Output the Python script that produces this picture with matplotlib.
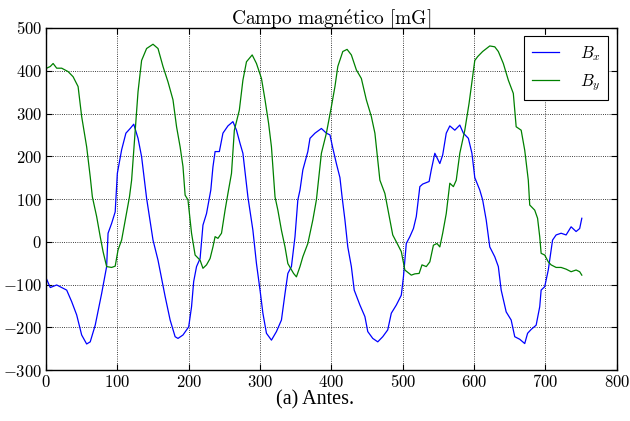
import matplotlib
matplotlib.use("Agg")
import matplotlib.pyplot as plt
from matplotlib.ticker import FuncFormatter, MultipleLocator

# valores (muestra, mG)
bx_t = [1, 6, 15, 22, 29, 36, 43, 50, 57, 62, 69, 78, 85, 87, 92, 97, 100, 106, 112,
        118, 123, 129, 134, 141, 150, 157, 167, 174, 181, 185, 192, 200, 204, 207, 211,
        216, 220, 225, 231, 234, 237, 243, 248, 255, 262, 267, 272, 276, 283, 290, 295,
        300, 304, 309, 316, 323, 330, 335, 339, 344, 349, 353, 356, 360, 367, 370, 377,
        386, 393, 398, 402, 407, 412, 415, 419, 423, 428, 432, 440, 447, 451, 458, 465,
        472, 479, 484, 491, 498, 501, 505, 510, 515, 519, 524, 528, 537, 540, 545, 552,
        556, 561, 566, 573, 580, 585, 592, 597, 601, 608, 612, 617, 622, 629, 634, 638,
        645, 652, 657, 664, 671, 675, 680, 687, 692, 694, 699, 704, 710, 715, 722, 729,
        736, 743, 748, 751]
bx = [-88, -107, -101, -107, -113, -140, -171, -218, -239, -234, -195, -121, -58, 20,
      43, 70, 160, 215, 254, 265, 275, 242, 199, 102, 4, -43, -128, -183, -222, -226,
      -218, -199, -152, -93, -58, -39, 39, 66, 121, 175, 211, 211, 254, 271, 281, 261,
      230, 207, 105, 27, -51, -113, -167, -214, -230, -210, -183, -121, -74, -58, 12,
      98, 121, 168, 211, 242, 254, 265, 254, 250, 219, 183, 150, 105, 51, -12, -58,
      -113, -148, -175, -210, -226, -234, -222, -206, -167, -148, -125, -82, -4, 12, 31,
      59, 129, 135, 141, 168, 207, 183, 203, 254, 271, 261, 273, 254, 242, 207, 150, 121,
      98, 51, -12, -35, -58, -113, -164, -183, -222, -228, -238, -214, -205, -195, -152,
      -113, -105, -66, 4, 16, 20, 16, 35, 24, 31, 55]

by_t = [1, 6, 10, 15, 22, 31, 38, 45, 50, 57, 62, 65, 71, 76, 80, 85, 92, 97, 101, 106,
        112, 117, 120, 125, 129, 134, 141, 150, 157, 164, 171, 178, 183, 188, 192, 195,
        199, 204, 209, 216, 220, 225, 230, 234, 237, 241, 246, 251, 255, 260, 264, 271,
        276, 281, 289, 295, 302, 307, 312, 316, 321, 325, 330, 335, 339, 347, 351, 356,
        360, 367, 374, 379, 386, 393, 400, 405, 409, 416, 422, 428, 435, 442, 449, 456,
        461, 468, 475, 482, 486, 491, 498, 503, 512, 517, 523, 527, 533, 538, 543, 548,
        552, 556, 561, 566, 571, 575, 580, 587, 593, 601, 605, 612, 622, 629, 634, 641,
        648, 655, 659, 666, 671, 676, 678, 685, 689, 692, 694, 699, 704, 708, 715, 722,
        729, 736, 743, 748, 751]
by = [406, 410, 417, 406, 406, 398, 386, 363, 293, 222, 152, 105, 59, 12, -23, -58, -60,
      -57, -19, 4, 59, 105, 144, 261, 351, 424, 452, 462, 452, 410, 374, 332, 269, 222,
      176, 109, 98, 20, -31, -43, -62, -54, -39, -12, 12, 8, 20, 74, 113, 160, 261, 308,
      378, 421, 437, 417, 382, 332, 277, 222, 105, 74, 27, -12, -51, -74, -82, -58, -35,
      -4, 51, 98, 207, 254, 316, 363, 410, 445, 450, 437, 402, 382, 332, 293, 254, 144,
      113, 51, 16, 0, -23, -66, -78, -75, -74, -54, -58, -47, -8, -4, -12, 20, 66, 137,
      129, 144, 207, 261, 324, 424, 433, 445, 458, 456, 445, 417, 378, 347, 269, 261, 214,
      144, 86, 74, 55, 12, -27, -31, -47, -54, -60, -60, -64, -70, -66, -70, -78]

plt.rcParams['mathtext.fontset'] = 'cm'
plt.rcParams['font.family'] = ['DejaVu Serif']

fig = plt.figure(figsize=(6.3, 4.21), dpi=100)
ax = fig.add_axes([0.073, 0.121, 0.906, 0.8125])

ax.plot(bx_t, bx, color='b', lw=0.9, label=r'$B_x$')
ax.plot(by_t, by, color='g', lw=0.9, label=r'$B_y$')

ax.set_xlim(0, 800)
ax.set_ylim(-300, 500)
ax.xaxis.set_major_locator(MultipleLocator(100))
ax.yaxis.set_major_locator(MultipleLocator(100))
fmt = FuncFormatter(lambda v, p: r'$%d$' % int(round(v)))
ax.xaxis.set_major_formatter(fmt)
ax.yaxis.set_major_formatter(fmt)
ax.tick_params(direction='in', length=4, top=True, right=True, labelsize=12, pad=3)
ax.grid(True, color='k', linestyle=':', linewidth=0.6)
for s in ax.spines.values():
    s.set_linewidth(1.0)

ax.set_title(r'$\mathrm{Campo\ magn\acute{e}tico\ [mG]}$', fontsize=14, pad=2)

leg = ax.legend(loc='upper right', fontsize=12, fancybox=False, framealpha=1,
                edgecolor='k', handlelength=1.6, handletextpad=1.3,
                labelspacing=0.55, borderpad=0.45, borderaxespad=0.5)
leg.get_frame().set_linewidth(0.8)

fig.text(0.5, 0.05, '(a) Antes.', ha='center', va='center', fontsize=14.5,
         family='Liberation Serif')

fig.savefig('out.png', dpi=100)
